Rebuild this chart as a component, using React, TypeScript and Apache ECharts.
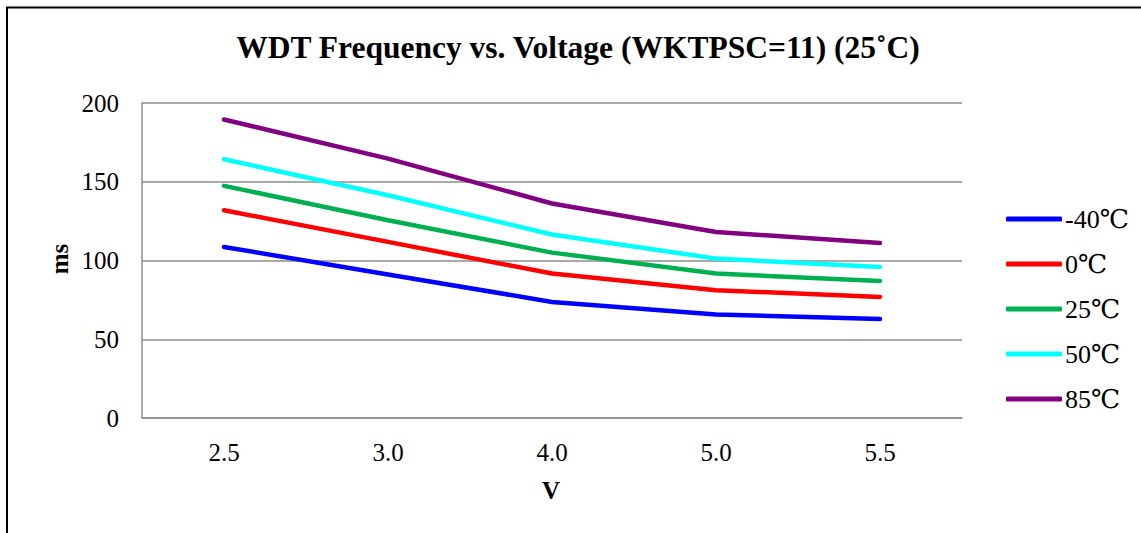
import React, { useEffect, useRef } from "react";
import * as echarts from "echarts";

const categories = ["2.5", "3.0", "4.0", "5.0", "5.5"];
const seriesNames = ["-40℃", "0℃", "25℃", "50℃", "85℃"];
const seriesColors = ["#0000FF", "#FF0000", "#00B050", "#00FFFF", "#800080"];
const valsM40 = [108.6, 91.1, 73.7, 65.7, 62.9];
const vals0 = [131.9, 111.8, 91.7, 81.1, 76.9];
const vals25 = [147.4, 125.6, 105.0, 91.7, 87.0];
const vals50 = [164.3, 141.4, 116.5, 101.2, 95.9];
const vals85 = [189.5, 164.7, 136.2, 118.1, 111.1];
const allValues = [valsM40, vals0, vals25, vals50, vals85];
const titleText = "WDT Frequency vs. Voltage (WKTPSC=11) (25˚C)";
const yName = "ms";
const xName = "V";

const SERIF = "'Liberation Serif', 'Times New Roman', 'DejaVu Serif', serif";

export default function App() {
  const ref = useRef<HTMLDivElement>(null);
  useEffect(() => {
    if (!ref.current) return;
    const chart = echarts.init(ref.current, undefined, { renderer: "svg" });
    chart.setOption({
      animation: false,
      backgroundColor: "#ffffff",
      grid: { left: 142, top: 103, width: 820, height: 315, containLabel: false },
      xAxis: {
        type: "category",
        data: categories,
        boundaryGap: true,
        axisLine: { show: true, lineStyle: { color: "#8c8c8c", width: 1.5 } },
        axisTick: { show: false },
        axisLabel: { color: "#000", fontFamily: SERIF, fontSize: 25, margin: 22 },
      },
      yAxis: {
        type: "value",
        min: 0,
        max: 200,
        interval: 50,
        axisLine: { show: true, lineStyle: { color: "#8c8c8c", width: 1.5 } },
        axisTick: { show: false },
        splitLine: { show: true, lineStyle: { color: "#8c8c8c", width: 1.5 } },
        axisLabel: { color: "#000", fontFamily: SERIF, fontSize: 25, margin: 23 },
      },
      legend: {
        orient: "vertical",
        left: 1001,
        top: 199,
        icon: "roundRect",
        itemWidth: 56,
        itemHeight: 5,
        itemGap: 15,
        textStyle: { color: "#000", fontFamily: SERIF, fontSize: 26, lineHeight: 30, padding: [0, 0, 0, -2] },
        data: seriesNames,
      },
      series: seriesNames.map((name, i) => ({
        name,
        type: "line",
        data: allValues[i],
        showSymbol: false,
        symbol: "none",
        color: seriesColors[i],
        lineStyle: { color: seriesColors[i], width: 4.5, cap: "round", join: "round" },
      })),
      graphic: [
        {
          type: "rect",
          shape: { x: 7, y: 7.5, width: 1160, height: 560 },
          style: { fill: "none", stroke: "#000", lineWidth: 2 },
          silent: true,
        },
        {
          type: "text",
          x: 578,
          y: 47,
          style: {
            text: titleText,
            fontFamily: SERIF,
            fontWeight: "bold",
            fontSize: 31.5,
            fill: "#000",
            textAlign: "center",
            textVerticalAlign: "middle",
          },
        },
        {
          type: "text",
          x: 59,
          y: 259,
          rotation: Math.PI / 2,
          style: {
            text: yName,
            fontFamily: SERIF,
            fontWeight: "bold",
            fontSize: 25,
            fill: "#000",
            textAlign: "center",
            textVerticalAlign: "middle",
          },
        },
        {
          type: "text",
          x: 551,
          y: 490,
          style: {
            text: xName,
            fontFamily: SERIF,
            fontWeight: "bold",
            fontSize: 25,
            fill: "#000",
            textAlign: "center",
            textVerticalAlign: "middle",
          },
        },
      ],
    });
    return () => chart.dispose();
  }, []);
  return (
    <div
      ref={ref}
      style={{ position: "fixed", left: 0, top: 0, width: 1141, height: 533 }}
    />
  );
}
